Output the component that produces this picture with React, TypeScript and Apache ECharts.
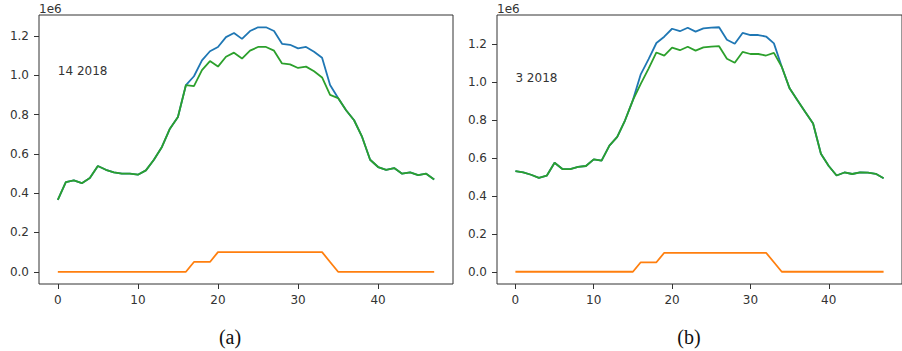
import React, { useEffect, useRef } from "react";
import * as echarts from "echarts";

// Half-hour slots of the day (0..47)
const slots: number[] = Array.from({ length: 48 }, (_, i) => i);

// Panel (a): 14 2018
const totalA: number[] = [
  366000, 456000, 465000, 451000, 477000, 538000, 519000, 506000, 499000, 499000,
  494000, 516000, 570000, 635000, 728000, 788000, 950000, 995000, 1076000, 1122000,
  1144000, 1194000, 1215000, 1185000, 1225000, 1244000, 1244000, 1225000, 1160000, 1155000,
  1137000, 1144000, 1120000, 1089000, 950000, 884000, 822000, 771000, 686000, 570000,
  533000, 519000, 528000, 499000, 506000, 492000, 499000, 470000,
];
const reductionA: number[] = [
  0, 0, 0, 0, 0, 0, 0, 0, 0, 0,
  0, 0, 0, 0, 0, 0, 0, 50000, 50000, 50000,
  100000, 100000, 100000, 100000, 100000, 100000, 100000, 100000, 100000, 100000,
  100000, 100000, 100000, 100000, 50000, 0, 0, 0, 0, 0,
  0, 0, 0, 0, 0, 0, 0, 0,
];
const netA: number[] = [
  366000, 456000, 465000, 451000, 477000, 538000, 519000, 506000, 499000, 499000,
  494000, 516000, 570000, 635000, 728000, 788000, 950000, 945000, 1026000, 1072000,
  1044000, 1094000, 1115000, 1085000, 1125000, 1144000, 1144000, 1125000, 1060000, 1055000,
  1037000, 1044000, 1020000, 989000, 900000, 884000, 822000, 771000, 686000, 570000,
  533000, 519000, 528000, 499000, 506000, 492000, 499000, 470000,
];

// Panel (b): 3 2018
const totalB: number[] = [
  530000, 523000, 511000, 495000, 506000, 574000, 541000, 541000, 552000, 557000,
  592000, 585000, 664000, 710000, 798000, 904000, 1040000, 1120000, 1205000, 1238000,
  1280000, 1267000, 1285000, 1265000, 1282000, 1286000, 1288000, 1222000, 1201000, 1258000,
  1247000, 1247000, 1239000, 1203000, 1080000, 966000, 904000, 842000, 781000, 622000,
  557000, 507000, 523000, 515000, 523000, 522000, 516000, 493000,
];
const reductionB: number[] = [
  0, 0, 0, 0, 0, 0, 0, 0, 0, 0,
  0, 0, 0, 0, 0, 0, 50000, 50000, 50000, 100000,
  100000, 100000, 100000, 100000, 100000, 100000, 100000, 100000, 100000, 100000,
  100000, 100000, 100000, 50000, 0, 0, 0, 0, 0, 0,
  0, 0, 0, 0, 0, 0, 0, 0,
];
const netB: number[] = [
  530000, 523000, 511000, 495000, 506000, 574000, 541000, 541000, 552000, 557000,
  592000, 585000, 664000, 710000, 798000, 904000, 990000, 1070000, 1155000, 1138000,
  1180000, 1167000, 1185000, 1165000, 1182000, 1186000, 1188000, 1122000, 1101000, 1158000,
  1147000, 1147000, 1139000, 1153000, 1080000, 966000, 904000, 842000, 781000, 622000,
  557000, 507000, 523000, 515000, 523000, 522000, 516000, 493000,
];

const xTicks: number[] = [0, 10, 20, 30, 40];
const yTicks: number[] = [0, 200000, 400000, 600000, 800000, 1000000, 1200000];
const panelTitles: string[] = ["14 2018", "3 2018"];
const panelCaptions: string[] = ["(a)", "(b)"];
const yRanges: [number, number][] = [
  [-62200, 1306600],
  [-64400, 1352400],
];

const BLUE = "#1f77b4";
const ORANGE = "#ff7f0e";
const GREEN = "#2ca02c";
const INK = "#333333";
const FONT = "DejaVu Sans";

const toPairs = (ys: number[]) => slots.map((x, i) => [x, ys[i]]);

export default function App() {
  const ref = useRef<HTMLDivElement>(null);

  useEffect(() => {
    if (!ref.current) return;
    const chart = echarts.init(ref.current, null, { renderer: "svg" });

    const grids = [
      { left: 39, top: 15, width: 414, height: 269 },
      { left: 497, top: 15, width: 414, height: 269 },
    ];

    const panels = [
      { total: totalA, reduction: reductionA, net: netA },
      { total: totalB, reduction: reductionB, net: netB },
    ];

    const lineSeries = (data: number[], color: string, idx: number) => ({
      type: "line",
      xAxisIndex: idx,
      yAxisIndex: idx,
      data: toPairs(data),
      showSymbol: false,
      symbol: "none",
      silent: true,
      lineStyle: { color, width: 1.8 },
      itemStyle: { color },
    });

    const option: any = {
      animation: false,
      backgroundColor: "#ffffff",
      grid: grids.map((g) => ({
        ...g,
        show: true,
        borderColor: INK,
        borderWidth: 1,
        backgroundColor: "transparent",
      })),
      xAxis: grids.map((_, i) => ({
        type: "value",
        gridIndex: i,
        min: -2.35,
        max: 49.35,
        axisLine: { show: false, onZero: false },
        splitLine: { show: false },
        axisTick: {
          show: true,
          length: 5,
          customValues: xTicks,
          lineStyle: { color: INK, width: 1 },
        },
        axisLabel: {
          show: true,
          customValues: xTicks,
          margin: 10,
          color: INK,
          fontSize: 12,
          fontFamily: FONT,
          formatter: (v: number) => String(v),
        },
      })),
      yAxis: grids.map((_, i) => ({
        type: "value",
        gridIndex: i,
        min: yRanges[i][0],
        max: yRanges[i][1],
        axisLine: { show: false, onZero: false },
        splitLine: { show: false },
        axisTick: {
          show: true,
          length: 5,
          customValues: yTicks,
          lineStyle: { color: INK, width: 1 },
        },
        axisLabel: {
          show: true,
          customValues: yTicks,
          margin: 10,
          color: INK,
          fontSize: 12,
          fontFamily: FONT,
          formatter: (v: number) => (v / 1e6).toFixed(1),
        },
      })),
      series: panels.flatMap((p, i) => [
        lineSeries(p.total, BLUE, i),
        lineSeries(p.reduction, ORANGE, i),
        lineSeries(p.net, GREEN, i),
      ]),
    };

    chart.setOption(option);

    // Annotations placed from axis coordinates
    const graphics: any[] = [];
    grids.forEach((g, i) => {
      const p = chart.convertToPixel({ gridIndex: i } as any, [0, 1000000]) as number[];
      graphics.push({
        type: "text",
        x: p[0],
        y: p[1] - 4,
        silent: true,
        style: {
          text: panelTitles[i],
          fill: INK,
          font: `12px '${FONT}'`,
          textAlign: "left",
          textVerticalAlign: "middle",
        },
      });
      graphics.push({
        type: "text",
        x: g.left,
        y: 8.5,
        silent: true,
        style: {
          text: "1e6",
          fill: INK,
          font: `12px '${FONT}'`,
          textAlign: "left",
          textVerticalAlign: "middle",
        },
      });
    });
    const captionX = [230, 689];
    panelCaptions.forEach((c, i) => {
      graphics.push({
        type: "text",
        x: captionX[i],
        y: 337,
        silent: true,
        style: {
          text: c,
          fill: "#111111",
          font: "20px 'Liberation Serif'",
          textAlign: "center",
          textVerticalAlign: "middle",
        },
      });
    });
    chart.setOption({ graphic: graphics });

    return () => chart.dispose();
  }, []);

  return (
    <div
      ref={ref}
      style={{
        position: "fixed",
        left: 0,
        top: 0,
        width: 902,
        height: 351,
        background: "#ffffff",
      }}
    />
  );
}
